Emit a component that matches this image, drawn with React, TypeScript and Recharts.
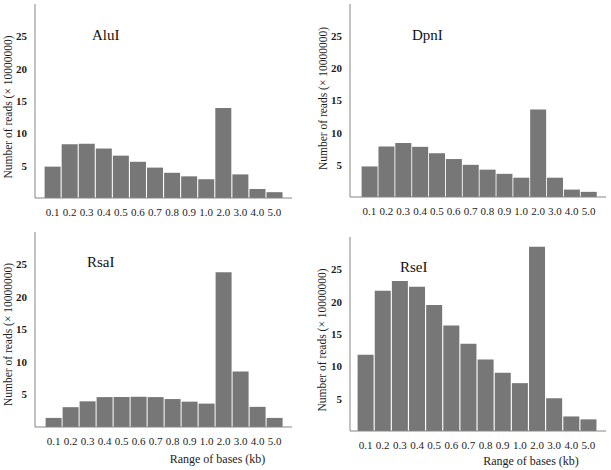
import React from "react";
import { BarChart, Bar, XAxis, YAxis, Label } from "recharts";

const categories = ["0.1", "0.2", "0.3", "0.4", "0.5", "0.6", "0.7", "0.8", "0.9", "1.0", "2.0", "3.0", "4.0", "5.0"];
const aluI = [4.85, 8.3, 8.4, 7.65, 6.55, 5.6, 4.7, 3.9, 3.35, 2.9, 13.9, 3.65, 1.4, 0.9];
const dpnI = [4.75, 7.85, 8.4, 7.8, 6.8, 5.9, 5.0, 4.25, 3.6, 3.0, 13.6, 3.0, 1.15, 0.8];
const rsaI = [1.4, 3.05, 3.95, 4.6, 4.6, 4.65, 4.6, 4.3, 3.9, 3.6, 23.8, 8.55, 3.1, 1.4];
const rseI = [11.8, 21.7, 23.2, 22.3, 19.5, 16.3, 13.5, 11.05, 9.0, 7.4, 28.5, 5.05, 2.25, 1.8];
const yTicks = [5, 10, 15, 20, 25];
const yDomain = [0, 30];
const yLabelText = "Number of reads (\u00d7 10000000)";
const xLabelText = "Range of bases (kb)";

const FONT = "'Liberation Serif', 'DejaVu Serif', serif";
const BOX = "#858585";
const BAR = "#777777";
const TXT = "#1c1c1c";

type PanelProps = {
  title: string;
  values: number[];
  left: number;
  top: number;
  width: number;
  height: number;
  margin: { top: number; right: number; bottom: number; left: number };
  yAxisWidth: number;
  xAxisHeight: number;
  pad: { left: number; right: number };
  yLabelX: number;
  yLabelDy: number;
  titleX: number;
  titleY: number;
  xLabel?: { dx: number; dy: number };
};

function Panel(p: PanelProps) {
  const data = categories.map((c, i) => ({ cat: c, v: p.values[i] }));
  return (
    <div style={{ position: "absolute", left: p.left, top: p.top, width: p.width, height: p.height }}>
      <BarChart
        width={p.width}
        height={p.height}
        data={data}
        margin={p.margin}
        barCategoryGap={0.6}
        style={{ overflow: "visible" }}
      >
        <XAxis
          dataKey="cat"
          height={p.xAxisHeight}
          padding={p.pad}
          tickLine={false}
          tickMargin={4}
          interval={0}
          axisLine={{ stroke: BOX }}
          tick={{ fontFamily: FONT, fontSize: 11, fill: TXT }}
        >
          {p.xLabel ? (
            <Label
              content={(props: any) => {
                const vb = props.viewBox || {};
                const cx = vb.x + vb.width / 2 + p.xLabel!.dx;
                const y = vb.y + p.xLabel!.dy + 4;
                return (
                  <text x={cx} y={y} textAnchor="middle" fontFamily={FONT} fontSize={12} fill={TXT}>
                    {xLabelText}
                  </text>
                );
              }}
            />
          ) : null}
        </XAxis>
        <XAxis xAxisId="top" orientation="top" dataKey="cat" height={0} tick={false} tickLine={false} axisLine={{ stroke: BOX }} />
        <YAxis
          domain={yDomain}
          ticks={yTicks}
          width={p.yAxisWidth}
          tickLine={false}
          axisLine={{ stroke: BOX }}
          tick={{ fontFamily: FONT, fontSize: 11, fill: TXT, fontWeight: 700 }}
          allowDataOverflow
        >
          <Label
            content={(props: any) => {
              const vb = props.viewBox || {};
              const cy = vb.y + vb.height / 2 + p.yLabelDy;
              const bx = p.yLabelX + 4;
              return (
                <g>
                  <text
                    x={bx}
                    y={cy}
                    transform={`rotate(-90 ${bx} ${cy})`}
                    textAnchor="middle"
                    fontFamily={FONT}
                    fontSize={11.5}
                    fill={TXT}
                  >
                    {yLabelText}
                  </text>
                  <text x={p.titleX} y={p.titleY + 5} fontFamily={FONT} fontSize={15} fill="#111">
                    {p.title}
                  </text>
                </g>
              );
            }}
          />
        </YAxis>
        <YAxis yAxisId="right" orientation="right" domain={yDomain} width={0} tick={false} tickLine={false} axisLine={{ stroke: BOX }} />
        <Bar dataKey="v" fill={BAR} isAnimationActive={false} />
      </BarChart>
    </div>
  );
}

export default function App() {
  return (
    <div style={{ position: "absolute", left: 0, top: 0, width: 611, height: 470, background: "#fff", overflow: "hidden" }}>
      <Panel
        title="AluI"
        values={aluI}
        left={0}
        top={0}
        width={300}
        height={225}
        margin={{ top: 4, right: 8, bottom: 0, left: 0 }}
        yAxisWidth={35}
        xAxisHeight={27}
        pad={{ left: 9, right: 9 }}
        yLabelX={8}
        yLabelDy={6}
        titleX={92}
        titleY={35}
      />
      <Panel
        title="DpnI"
        values={dpnI}
        left={300}
        top={0}
        width={311}
        height={225}
        margin={{ top: 4, right: 5, bottom: 0, left: 0 }}
        yAxisWidth={50}
        xAxisHeight={28}
        pad={{ left: 11, right: 9 }}
        yLabelX={23}
        yLabelDy={-2}
        titleX={112}
        titleY={35}
      />
      <Panel
        title="RsaI"
        values={rsaI}
        left={0}
        top={225}
        width={300}
        height={245}
        margin={{ top: 7, right: 8, bottom: 0, left: 0 }}
        yAxisWidth={35}
        xAxisHeight={43}
        pad={{ left: 10, right: 9 }}
        yLabelX={8}
        yLabelDy={5}
        titleX={87}
        titleY={37}
        xLabel={{ dx: 54, dy: 32 }}
      />
      <Panel
        title="RseI"
        values={rseI}
        left={300}
        top={225}
        width={311}
        height={245}
        margin={{ top: 12, right: 5, bottom: 0, left: 0 }}
        yAxisWidth={50}
        xAxisHeight={39}
        pad={{ left: 7, right: 9 }}
        yLabelX={22}
        yLabelDy={6}
        titleX={100}
        titleY={42}
        xLabel={{ dx: 53, dy: 30 }}
      />
    </div>
  );
}
